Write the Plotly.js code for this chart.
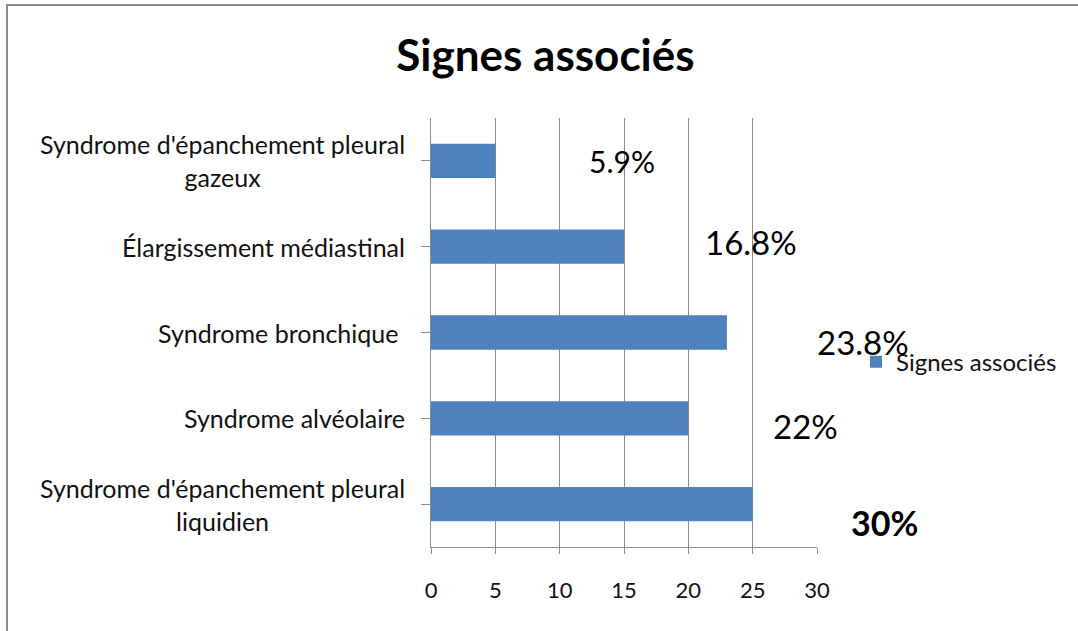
<!DOCTYPE html>
<html>
<head>
<meta charset="utf-8">
<script src="https://cdn.plot.ly/plotly-3.0.1.min.js"></script>
<style>
  html, body { margin: 0; padding: 0; background: #fff; overflow: hidden; }
  #frame { position: absolute; left: 6px; top: 4px; width: 1080px; height: 640px; border: 2px solid #8c8c8c; box-sizing: border-box; }
  #chart { position: absolute; left: 0; top: 0; width: 1078px; height: 631px; }
</style>
</head>
<body>
<div id="frame"></div>
<div id="chart"></div>
<script>
// Data (bottom to top)
const categories = [
  "Syndrome d'épanchement pleural<br>liquidien",
  "Syndrome alvéolaire",
  "Syndrome bronchique ",
  "Élargissement médiastinal",
  "Syndrome d'épanchement pleural<br>gazeux"
];
const values = [25, 20, 23, 15, 5];
const percentLabels = ["30%", "22%", "23.8%", "16.8%", "5.9%"];
const seriesName = "Signes associés";
const xTicks = [0, 5, 10, 15, 20, 25, 30];

const FONT = "Lato, 'Open Sans', sans-serif";

// Styling/placement for the free-floating percent labels
const pctX = [1.176, 0.969, 1.119, 0.829, 0.495];
const pctYOffset = [-0.215, -0.093, -0.105, 0.05, 0.0];
const pctSize = [34, 33, 33, 33, 30];
const pctBold = [true, false, false, false, false];

const annotations = [];
categories.forEach((c, i) => {
  annotations.push({
    xref: 'paper', yref: 'y', x: -0.062, y: i, text: c,
    xanchor: 'right', yanchor: 'middle', align: 'center', showarrow: false,
    font: {family: FONT, size: 25, color: '#111'}
  });
});
percentLabels.forEach((t, i) => {
  annotations.push({
    xref: 'paper', yref: 'y', x: pctX[i], y: i + pctYOffset[i],
    text: pctBold[i] ? '<b>' + t + '</b>' : t,
    xanchor: 'center', yanchor: 'middle', showarrow: false,
    font: {family: FONT, size: pctSize[i], color: '#000'}
  });
});

const trace = {
  type: 'bar', orientation: 'h',
  x: values, y: categories.map((c, i) => i),
  name: seriesName,
  marker: {color: '#4f81bd'},
  width: 0.4,
  hoverinfo: 'x'
};

const layout = {
  width: 1078, height: 631,
  paper_bgcolor: 'rgba(0,0,0,0)', plot_bgcolor: 'rgba(0,0,0,0)',
  margin: {l: 431, r: 261, t: 118, b: 84},
  title: {text: '<b>Signes associés</b>', font: {family: FONT, size: 44, color: '#000'}, x: 0.506, xanchor: 'center', y: 0.912, yanchor: 'middle'},
  showlegend: true,
  legend: {x: 1.101, y: 0.431, xanchor: 'left', yanchor: 'middle', font: {family: FONT, size: 24, color: '#111'}, bgcolor: 'rgba(0,0,0,0)', itemwidth: 30},
  xaxis: {
    range: [0, 30], tickvals: xTicks, ticktext: xTicks.map(String),
    showgrid: true, gridcolor: '#8c8c8c', gridwidth: 1,
    showline: true, linecolor: '#8c8c8c', linewidth: 1,
    ticks: 'outside', ticklen: 6, tickcolor: '#8c8c8c',
    tickfont: {family: FONT, size: 22, color: '#111'},
    zeroline: false, fixedrange: true, ticklabelstandoff: 18
  },
  yaxis: {
    range: [-0.5, 4.5], tickvals: [0, 1, 2, 3, 4], showticklabels: false,
    tickson: 'boundaries', ticks: 'outside', ticklen: 9, tickcolor: '#8c8c8c',
    showline: true, linecolor: '#8c8c8c', linewidth: 1,
    showgrid: false, zeroline: false, fixedrange: true
  },
  annotations: annotations
};

Plotly.newPlot('chart', [trace], layout, {displayModeBar: false, staticPlot: true});
</script>
</body>
</html>
